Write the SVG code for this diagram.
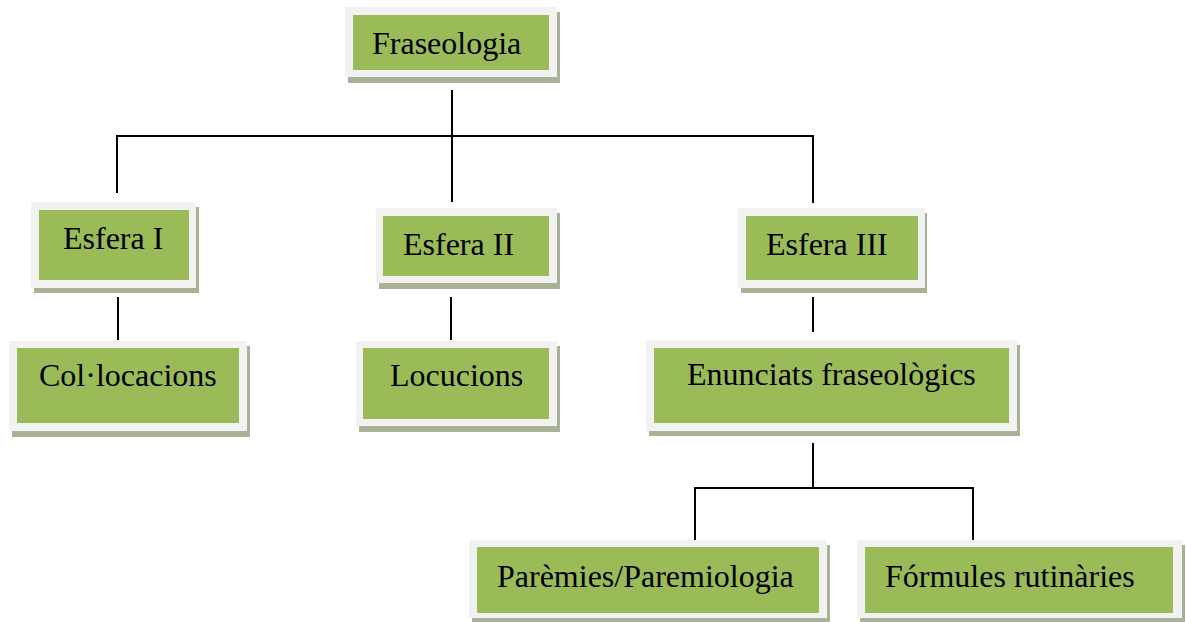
<svg xmlns="http://www.w3.org/2000/svg" width="1186" height="622" viewBox="0 0 1186 622">
<style>
.sh{fill:#a8b296}
.fr{fill:#f2f2f2}
.in{fill:#9bbb59}
.t{font-family:"Liberation Serif","Times New Roman",serif;font-size:32px;fill:#000}
.c{stroke:#000;stroke-width:2;fill:none}
</style>
<rect width="1186" height="622" fill="#fff"/>
<g id="connectors">
<path class="c" d="M452 90V202M117 136H813M117 135V193M813 135V203"/>
<path class="c" d="M118 297V340M451 297V340M813 297V332"/>
<path class="c" d="M813 443V488M695 488H973M695 487V540M973 487V540"/>
</g>
<g id="n-fraseologia">
<rect class="sh" x="348" y="12" width="212" height="71"/>
<rect class="fr" x="345" y="7" width="212" height="70"/>
<rect class="in" x="353" y="15" width="196" height="55"/>
<text class="t" x="372" y="54">Fraseologia</text>
</g>
<g id="n-esfera1">
<rect class="sh" x="34" y="207" width="165" height="86"/>
<rect class="fr" x="31" y="202" width="165" height="86"/>
<rect class="in" x="39" y="210" width="150" height="70"/>
<text class="t" x="63" y="249">Esfera I</text>
</g>
<g id="n-esfera2">
<rect class="sh" x="379" y="213" width="181" height="76"/>
<rect class="fr" x="376" y="208" width="181" height="75"/>
<rect class="in" x="383" y="216" width="166" height="60"/>
<text class="t" x="403" y="255">Esfera II</text>
</g>
<g id="n-esfera3">
<rect class="sh" x="741" y="213" width="186" height="80"/>
<rect class="fr" x="738" y="208" width="187" height="80"/>
<rect class="in" x="746" y="216" width="172" height="64"/>
<text class="t" x="766" y="255">Esfera III</text>
</g>
<g id="n-collocacions">
<rect class="sh" x="12" y="346" width="238" height="91"/>
<rect class="fr" x="9" y="341" width="238" height="90"/>
<rect class="in" x="17" y="348" width="222" height="75"/>
<text class="t" x="39" y="386">Col·locacions</text>
</g>
<g id="n-locucions">
<rect class="sh" x="359" y="346" width="201" height="86"/>
<rect class="fr" x="356" y="341" width="201" height="85"/>
<rect class="in" x="363" y="348" width="186" height="71"/>
<text class="t" x="390" y="386">Locucions</text>
</g>
<g id="n-enunciats">
<rect class="sh" x="649" y="345" width="371" height="91"/>
<rect class="fr" x="646" y="340" width="371" height="91"/>
<rect class="in" x="654" y="348" width="355" height="75"/>
<text class="t" x="687" y="385">Enunciats fraseològics</text>
</g>
<g id="n-paremies">
<rect class="sh" x="472" y="545" width="358" height="77"/>
<rect class="fr" x="469" y="540" width="358" height="78"/>
<rect class="in" x="477" y="547" width="342" height="66"/>
<text class="t" x="497" y="587">Parèmies/Paremiologia</text>
</g>
<g id="n-formules">
<rect class="sh" x="860" y="545" width="325" height="77"/>
<rect class="fr" x="857" y="540" width="325" height="78"/>
<rect class="in" x="865" y="547" width="308" height="66"/>
<text class="t" x="885" y="587">Fórmules rutinàries</text>
</g>
</svg>
